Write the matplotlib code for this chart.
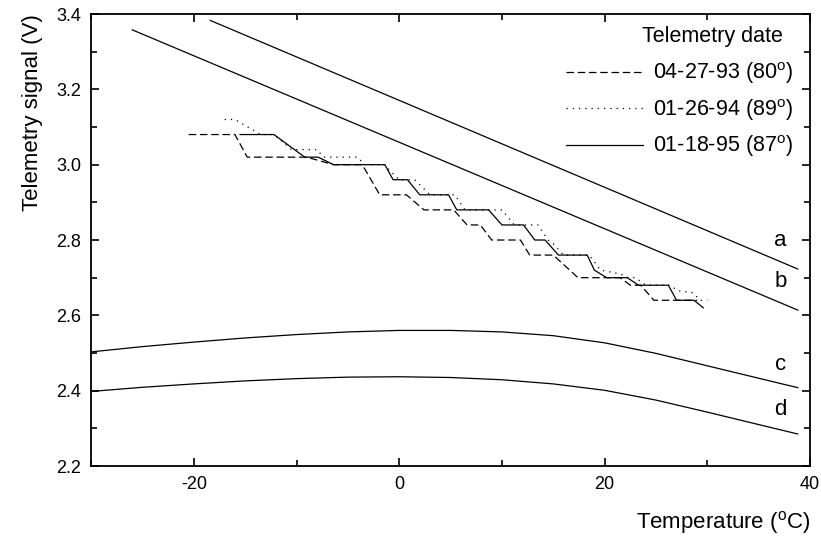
import matplotlib
matplotlib.use("Agg")
import matplotlib.pyplot as plt
from matplotlib.ticker import MultipleLocator

# --- fonts ---
plt.rcParams['font.family'] = ['Liberation Sans', 'DejaVu Sans']
plt.rcParams['mathtext.fontset'] = 'custom'
plt.rcParams['mathtext.rm'] = 'Liberation Sans'
plt.rcParams['axes.unicode_minus'] = False

# --- data: straight calibration lines a, b ---
a_temp = [-18.4, 38.8]
a_volt = [3.383, 2.723]
b_temp = [-26.0, 38.8]
b_volt = [3.358, 2.614]

# --- data: curved calibration lines c, d ---
cd_temp = [-30, -25, -20, -15, -10, -5, 0, 5, 10, 15, 20, 25, 30, 35, 38.8]
c_volt = [2.503, 2.517, 2.529, 2.540, 2.549, 2.556, 2.560, 2.560, 2.556,
          2.546, 2.527, 2.499, 2.466, 2.433, 2.408]
d_volt = [2.398, 2.409, 2.418, 2.426, 2.432, 2.436, 2.437, 2.435, 2.429,
          2.418, 2.401, 2.375, 2.343, 2.310, 2.285]
curve_names = ['a', 'b', 'c', 'd']
curve_label_temp = [37.1, 37.1, 37.1, 37.1]
curve_label_volt = [2.80, 2.69, 2.47, 2.35]

# --- data: telemetry staircases ---
t93 = [-20.5, -16.0, -14.8, -9.0, -6.4, -3.6, -1.9, 0.7, 2.4, 5.3, 6.6, 7.9,
       9.0, 11.8, 12.7, 15.0, 17.4, 21.5, 22.5, 23.5, 24.8, 29.0]
v93 = [3.08, 3.08, 3.02, 3.02, 3.00, 3.00, 2.92, 2.92, 2.88, 2.88, 2.84, 2.84,
       2.80, 2.80, 2.76, 2.76, 2.70, 2.70, 2.68, 2.68, 2.64, 2.64]

t94 = [-17.0, -16.0, -13.5, -12.2, -10.5, -8.0, -7.4, -4.1, -3.3, -1.5, 0.0,
       1.5, 3.0, 5.4, 6.4, 10.0, 11.2, 13.5, 14.5, 15.0, 16.0, 18.5, 19.6,
       21.5, 22.3, 23.0, 24.0, 26.3, 27.2, 28.6, 29.3, 30.0]
v94 = [3.12, 3.12, 3.08, 3.08, 3.04, 3.04, 3.02, 3.02, 3.00, 3.00, 2.96,
       2.96, 2.92, 2.92, 2.88, 2.88, 2.84, 2.84, 2.80, 2.79, 2.76, 2.76, 2.72,
       2.71, 2.70, 2.70, 2.68, 2.68, 2.665, 2.66, 2.64, 2.64]

t95 = [-15.5, -12.2, -9.2, -7.9, -6.4, -1.4, -0.6, 0.8, 2.0, 4.8, 5.6, 8.7,
       10.0, 12.1, 13.2, 14.2, 15.5, 18.3, 19.0, 20.2, 22.2, 23.3, 26.2, 27.0,
       28.7, 29.6]
v95 = [3.08, 3.08, 3.02, 3.02, 3.00, 3.00, 2.96, 2.96, 2.92, 2.92, 2.88, 2.88,
       2.84, 2.84, 2.80, 2.80, 2.76, 2.76, 2.72, 2.70, 2.70, 2.68, 2.68, 2.64,
       2.64, 2.62]

series_labels = ['04-27-93 (80$^\\mathrm{o}$)', '01-26-94 (89$^\\mathrm{o}$)',
                 '01-18-95 (87$^\\mathrm{o}$)']
legend_title = 'Telemetry date'

# --- figure ---
fig = plt.figure(figsize=(8.21, 5.41), dpi=100)
ax = fig.add_axes([0.111, 0.1386, 0.8757, 0.8355])

lw = 0.9
ax.plot(a_temp, a_volt, color='black', lw=lw)
ax.plot(b_temp, b_volt, color='black', lw=lw)
ax.plot(cd_temp, c_volt, color='black', lw=lw)
ax.plot(cd_temp, d_volt, color='black', lw=lw)

h1, = ax.plot(t93, v93, color='black', lw=lw, linestyle=(0, (6, 3)),
              label=series_labels[0])
h2, = ax.plot(t94, v94, color='black', lw=lw, linestyle=(0, (1, 4)),
              label=series_labels[1])
h3, = ax.plot(t95, v95, color='black', lw=lw, linestyle='-',
              label=series_labels[2])

for name, tx, vy in zip(curve_names, curve_label_temp, curve_label_volt):
    ax.text(tx, vy, name, fontsize=16, ha='center', va='center')

ax.set_xlim(-30, 40)
ax.set_ylim(2.2, 3.4)
ax.xaxis.set_major_locator(MultipleLocator(20))
ax.xaxis.set_minor_locator(MultipleLocator(10))
ax.yaxis.set_major_locator(MultipleLocator(0.2))
ax.yaxis.set_minor_locator(MultipleLocator(0.1))
ax.yaxis.set_major_formatter(plt.FormatStrFormatter('%.1f'))
ax.tick_params(which='both', direction='in', top=True, right=True,
               labelsize=13, width=1.2)
ax.tick_params(which='major', length=6, pad=7)
ax.tick_params(which='minor', length=4)
for sp in ax.spines.values():
    sp.set_linewidth(1.3)

ax.set_xlabel('Temperature ($^\\mathrm{o}$C)', fontsize=16, loc='right',
              labelpad=12)
ax.set_ylabel('Telemetry signal (V)', fontsize=16, loc='top', labelpad=10)

# legend entries, title set apart (it sits left of the entries' right edge)
leg = ax.legend(handles=[h1, h2, h3], loc='upper right',
                bbox_to_anchor=(0.976, 0.897), frameon=False, fontsize=15.5,
                handlelength=3.6, labelspacing=0.5, handletextpad=0.45,
                borderpad=0, borderaxespad=0)
ax.text(0.962, 0.950, legend_title, transform=ax.transAxes, fontsize=15.5,
        ha='right', va='center')

fig.savefig('out.png', dpi=100)
